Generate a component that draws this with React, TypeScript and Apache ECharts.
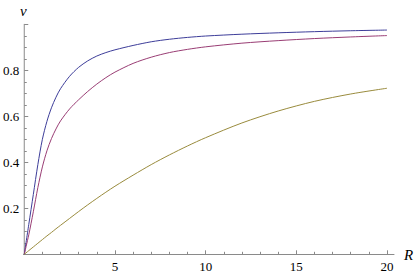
import React, { useEffect, useRef } from "react";
import * as echarts from "echarts";

const rValues = [0, 0.25, 0.5, 0.75, 1, 1.25, 1.5, 1.75, 2, 2.5, 3, 3.5, 4, 4.5, 5, 6, 7, 8, 9, 10, 12, 14, 16, 18, 20];
const blueV = [0, 0.13, 0.26, 0.39, 0.5, 0.578, 0.637, 0.683, 0.72, 0.774, 0.813, 0.841, 0.862, 0.877, 0.889, 0.908, 0.924, 0.935, 0.943, 0.949, 0.957, 0.963, 0.968, 0.972, 0.975];
const purpleV = [0, 0.085, 0.185, 0.29, 0.38, 0.45, 0.503, 0.545, 0.58, 0.632, 0.672, 0.708, 0.74, 0.768, 0.792, 0.83, 0.857, 0.877, 0.891, 0.902, 0.918, 0.929, 0.938, 0.945, 0.951];
const oliveV = [0, 0.016, 0.032, 0.048, 0.064, 0.08, 0.095, 0.111, 0.126, 0.156, 0.186, 0.215, 0.243, 0.27, 0.296, 0.344, 0.39, 0.432, 0.471, 0.507, 0.571, 0.623, 0.665, 0.697, 0.722];
const xTicks = [0, 5, 10, 15, 20];
const yTicks = [0, 0.2, 0.4, 0.6, 0.8];
const xName = "R";
const yName = "v";

const pair = (ys: number[]) => rValues.map((r, i) => [r, ys[i]]);

export default function App() {
  const ref = useRef<HTMLDivElement>(null);
  useEffect(() => {
    document.body.style.margin = "0";
    const chart = echarts.init(ref.current!, undefined, { renderer: "svg" });
    const axisColor = "#8a8a8a";
    const font = "'Liberation Serif', 'Times New Roman', serif";
    const line = (ys: number[], color: string) => ({
      type: "line",
      xAxisIndex: 0,
      yAxisIndex: 0,
      data: pair(ys),
      showSymbol: false,
      smooth: 0.3,
      lineStyle: { color, width: 1 },
    });
    chart.setOption({
      animation: false,
      textStyle: { fontFamily: font },
      graphic: [
        { type: "text", left: 20, top: 3, style: { text: yName, font: `italic 15px ${font}`, fill: "#000" } },
        { type: "text", left: 404, top: 247, style: { text: xName, font: `italic 15px ${font}`, fill: "#000" } },
      ],
      grid: [
        { left: 23.5, right: 28, top: 24.3, bottom: 21.7 },
        { left: 23.5, right: 21, top: 24.3, bottom: 21.7 },
      ],
      xAxis: [
        {
          gridIndex: 0,
          type: "value",
          min: xTicks[0],
          max: xTicks[xTicks.length - 1],
          interval: 5,
          axisLine: { show: false },
          axisTick: { show: true, inside: true, length: 4, lineStyle: { color: axisColor } },
          minorTick: { show: true, splitNumber: 5, length: 2.5, lineStyle: { color: axisColor } },
          splitLine: { show: false },
          axisLabel: {
            margin: 6,
            color: "#000",
            fontFamily: font,
            fontSize: 13,
            formatter: (v: number) => (xTicks.includes(v) && v !== 0 ? String(v) : ""),
          },
        },
        {
          gridIndex: 1,
          type: "value",
          min: 0,
          max: 20.4,
          axisLine: { show: true, lineStyle: { color: axisColor, width: 1 } },
          axisTick: { show: false },
          axisLabel: { show: false },
          splitLine: { show: false },
        },
      ],
      yAxis: [
        {
          gridIndex: 0,
          type: "value",
          min: 0,
          max: 1,
          interval: 0.2,
          axisLine: { show: true, lineStyle: { color: axisColor, width: 1 } },
          axisTick: { show: true, inside: true, length: 4, lineStyle: { color: axisColor } },
          minorTick: { show: true, splitNumber: 4, length: 2.5, lineStyle: { color: axisColor } },
          splitLine: { show: false },
          axisLabel: {
            margin: 5,
            color: "#000",
            fontFamily: font,
            fontSize: 13,
            formatter: (v: number) => {
              const hit = yTicks.find((t) => Math.abs(t - v) < 1e-9);
              return hit !== undefined && hit !== 0 ? hit.toFixed(1) : "";
            },
          },
        },
        { gridIndex: 1, type: "value", min: 0, max: 1, show: false },
      ],
      series: [line(blueV, "#3d3d99"), line(purpleV, "#993d74"), line(oliveV, "#998b3d")],
    });
    return () => chart.dispose();
  }, []);
  return <div ref={ref} style={{ width: 415, height: 276 }} />;
}
